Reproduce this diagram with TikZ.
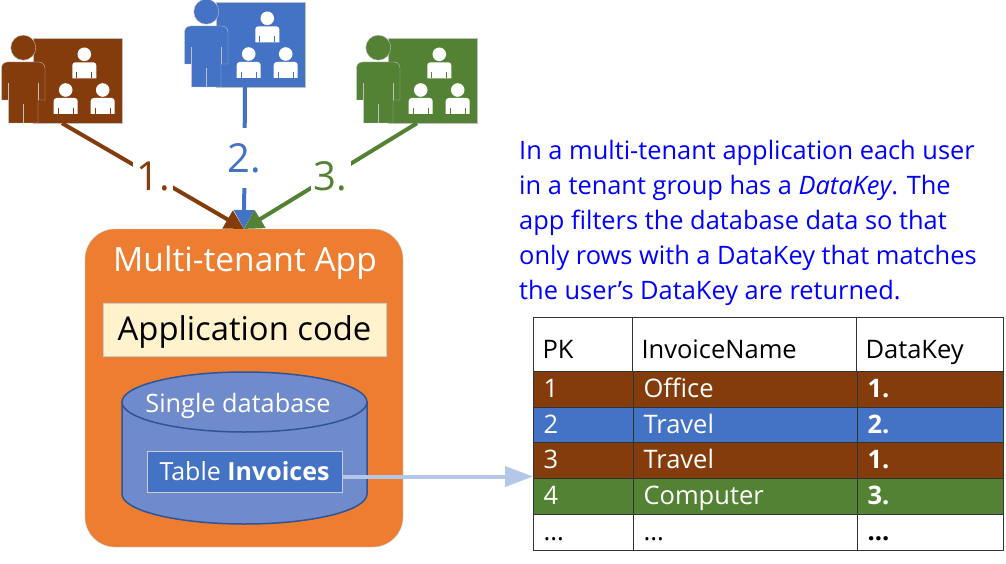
\documentclass[tikz,border=0pt]{standalone}
\usepackage{fontspec}
\setmainfont{Open Sans}
\usetikzlibrary{arrows.meta}
\definecolor{tbrown}{HTML}{843C0C}
\definecolor{tblue}{HTML}{4472C4}
\definecolor{tgreen}{HTML}{548235}
\definecolor{apporange}{HTML}{ED7D31}
\definecolor{codecream}{HTML}{FFF2CC}
\definecolor{dbfill}{HTML}{6F8BCB}
\definecolor{dbline}{HTML}{2F5597}
\definecolor{linkblue}{HTML}{B4C7E7}
\newcommand\rowdots{...}
\tikzset{
  edge/.style={line width=4pt,#1,-{Triangle[length=19pt,width=20pt]}},
  keylabel/.style={fill=white,inner sep=0pt,minimum width=40pt,minimum height=60pt,font=\fontsize{40}{44}\selectfont},
  cell/.style={anchor=north west,inner xsep=10pt,inner ysep=0pt,draw=black!80,line width=1pt,font=\fontsize{25.5}{29}\selectfont,text depth=4pt,text height=20pt},
  pics/tenant/.style={code={
    \node[inner sep=0pt,minimum width=120pt,minimum height=85pt] (-icon) at (62,80.5) {};
    \draw[fill=#1,draw=black!25] (33,38) rectangle (122,123);
    \draw[fill=#1,draw=black!25] (23.3,47.7) circle [radius=12.5pt];
    \draw[fill=#1,draw=black!25] (1.5,100) [rounded corners=6pt] -- (1.5,62) -- (45,62) [sharp corners] -- (45,100) -- (38,100) -- (38,123) -- (8.5,123) -- (8.5,100) -- cycle;
    \draw[draw=black!25] (8.5,83) -- (8.5,100) (38,83) -- (38,100) (23,104) -- (23,123);
    \foreach \hx/\hy in {84.3/54.3,65.7/90,102.7/90} {
      \fill[white] (\hx,\hy) circle [radius=6.8pt];
      \fill[white] (\hx-12,\hy+24) [rounded corners=3pt] -- (\hx-12,\hy+8) -- (\hx+12,\hy+8) [sharp corners] -- (\hx+12,\hy+24) -- cycle;
      \draw[#1,line width=.8pt] (\hx-7.5,\hy+18) -- (\hx-7.5,\hy+24) (\hx+7.5,\hy+18) -- (\hx+7.5,\hy+24);
    }
  }}
}
\begin{document}
\begin{tikzpicture}[x=1pt,y=-1pt]
  \useasboundingbox (0,0) rectangle (1006,564);

  \draw[fill=apporange,draw=black!20,rounded corners=30pt] (85,229) rectangle (403,547);
  \node[text=white,font=\fontsize{33.5}{38}\selectfont] (apptitle) at (245,263) {Multi-tenant App};
  \node[fill=codecream,draw=black!20,minimum width=283pt,minimum height=53pt,text height=25pt,text depth=4pt,font=\fontsize{32.8}{38}\selectfont] (appcode) at (244.5,329.5) {Application code};

  % database
  \draw[fill=dbfill,draw=dbline,line width=1.5pt] (122,402) -- (122,494) arc (180:0:122.5 and 30) -- (367,402) -- cycle;
  \draw[fill=dbfill,draw=dbline,line width=1.5pt] (244.5,402) ellipse [x radius=122.5,y radius=30];
  \node[text=white,font=\fontsize{25.3}{29}\selectfont] (dbname) at (238,406) {Single database};
  \node[fill=tblue,draw=black!20,minimum width=195pt,minimum height=41pt,text=white,font=\fontsize{25}{29}\selectfont] (tblinv) at (244.5,471.5) {Table \textbf{Invoices}};

  \pic (t1) at (0,0) {tenant=tbrown};
  \pic (t2) at (183,-36) {tenant=tblue};
  \pic (t3) at (355,0) {tenant=tgreen};

  \coordinate (apptop) at (244,229);
  \draw[edge=tblue] (t2-icon.south) -- node[keylabel,text=tblue] (k2) {2.} (apptop);
  \draw[edge=tbrown] (t1-icon.south) -- node[keylabel,text=tbrown] (k1) {1.} (apptop);
  \draw[edge=tgreen] (t3-icon.south) -- node[keylabel,text=tgreen] (k3) {3.} (apptop);

  \node[anchor=north west,inner sep=0pt,align=left,text=blue,font=\fontsize{25.4}{35}\selectfont] (note) at (519,140) {In a multi-tenant application each user\\in a tenant group has a \textit{DataKey}. The\\app filters the database data so that\\only rows with a DataKey that matches\\the user’s DataKey are returned.};

  \foreach \cn/\cx/\cw/\ctxt in {1/533/81/PK,2/632/206/InvoiceName,3/856/129/DataKey}
    \node[cell,inner xsep=9pt,text height=30pt,text depth=2pt,fill=white,minimum height=54pt,text width=\cw pt] (c0-\cn) at (\cx,317) {\ctxt};
  \foreach \rname/\ytop/\rht/\rcol/\rtxt/\pk/\inv/\dk in {
    1/371/36/tbrown/white/1/Office/\textbf{1.},
    2/407/35/tblue/white/2/Travel/\textbf{2.},
    3/442/36/tbrown/white/3/Travel/\textbf{1.},
    4/478/36/tgreen/white/4/Computer/\textbf{3.},
    5/514/36/white/black/\rowdots/\rowdots/\textbf{\rowdots}}
    \foreach \cn/\cx/\cw/\ctxt in {1/533/80/\pk,2/633/204/\inv,3/857/126/\dk}
      \node[cell,fill=\rcol,text=\rtxt,minimum height=\rht pt,text width=\cw pt] (c\rname-\cn) at (\cx,\ytop) {\ctxt};

  \coordinate (linkstart) at ([yshift=-5pt]tblinv.east);
  \draw[linkblue,line width=4pt,-{Triangle[length=28pt,width=20pt]}] (linkstart) -- (linkstart -| c3-1.west);
\end{tikzpicture}
\end{document}
